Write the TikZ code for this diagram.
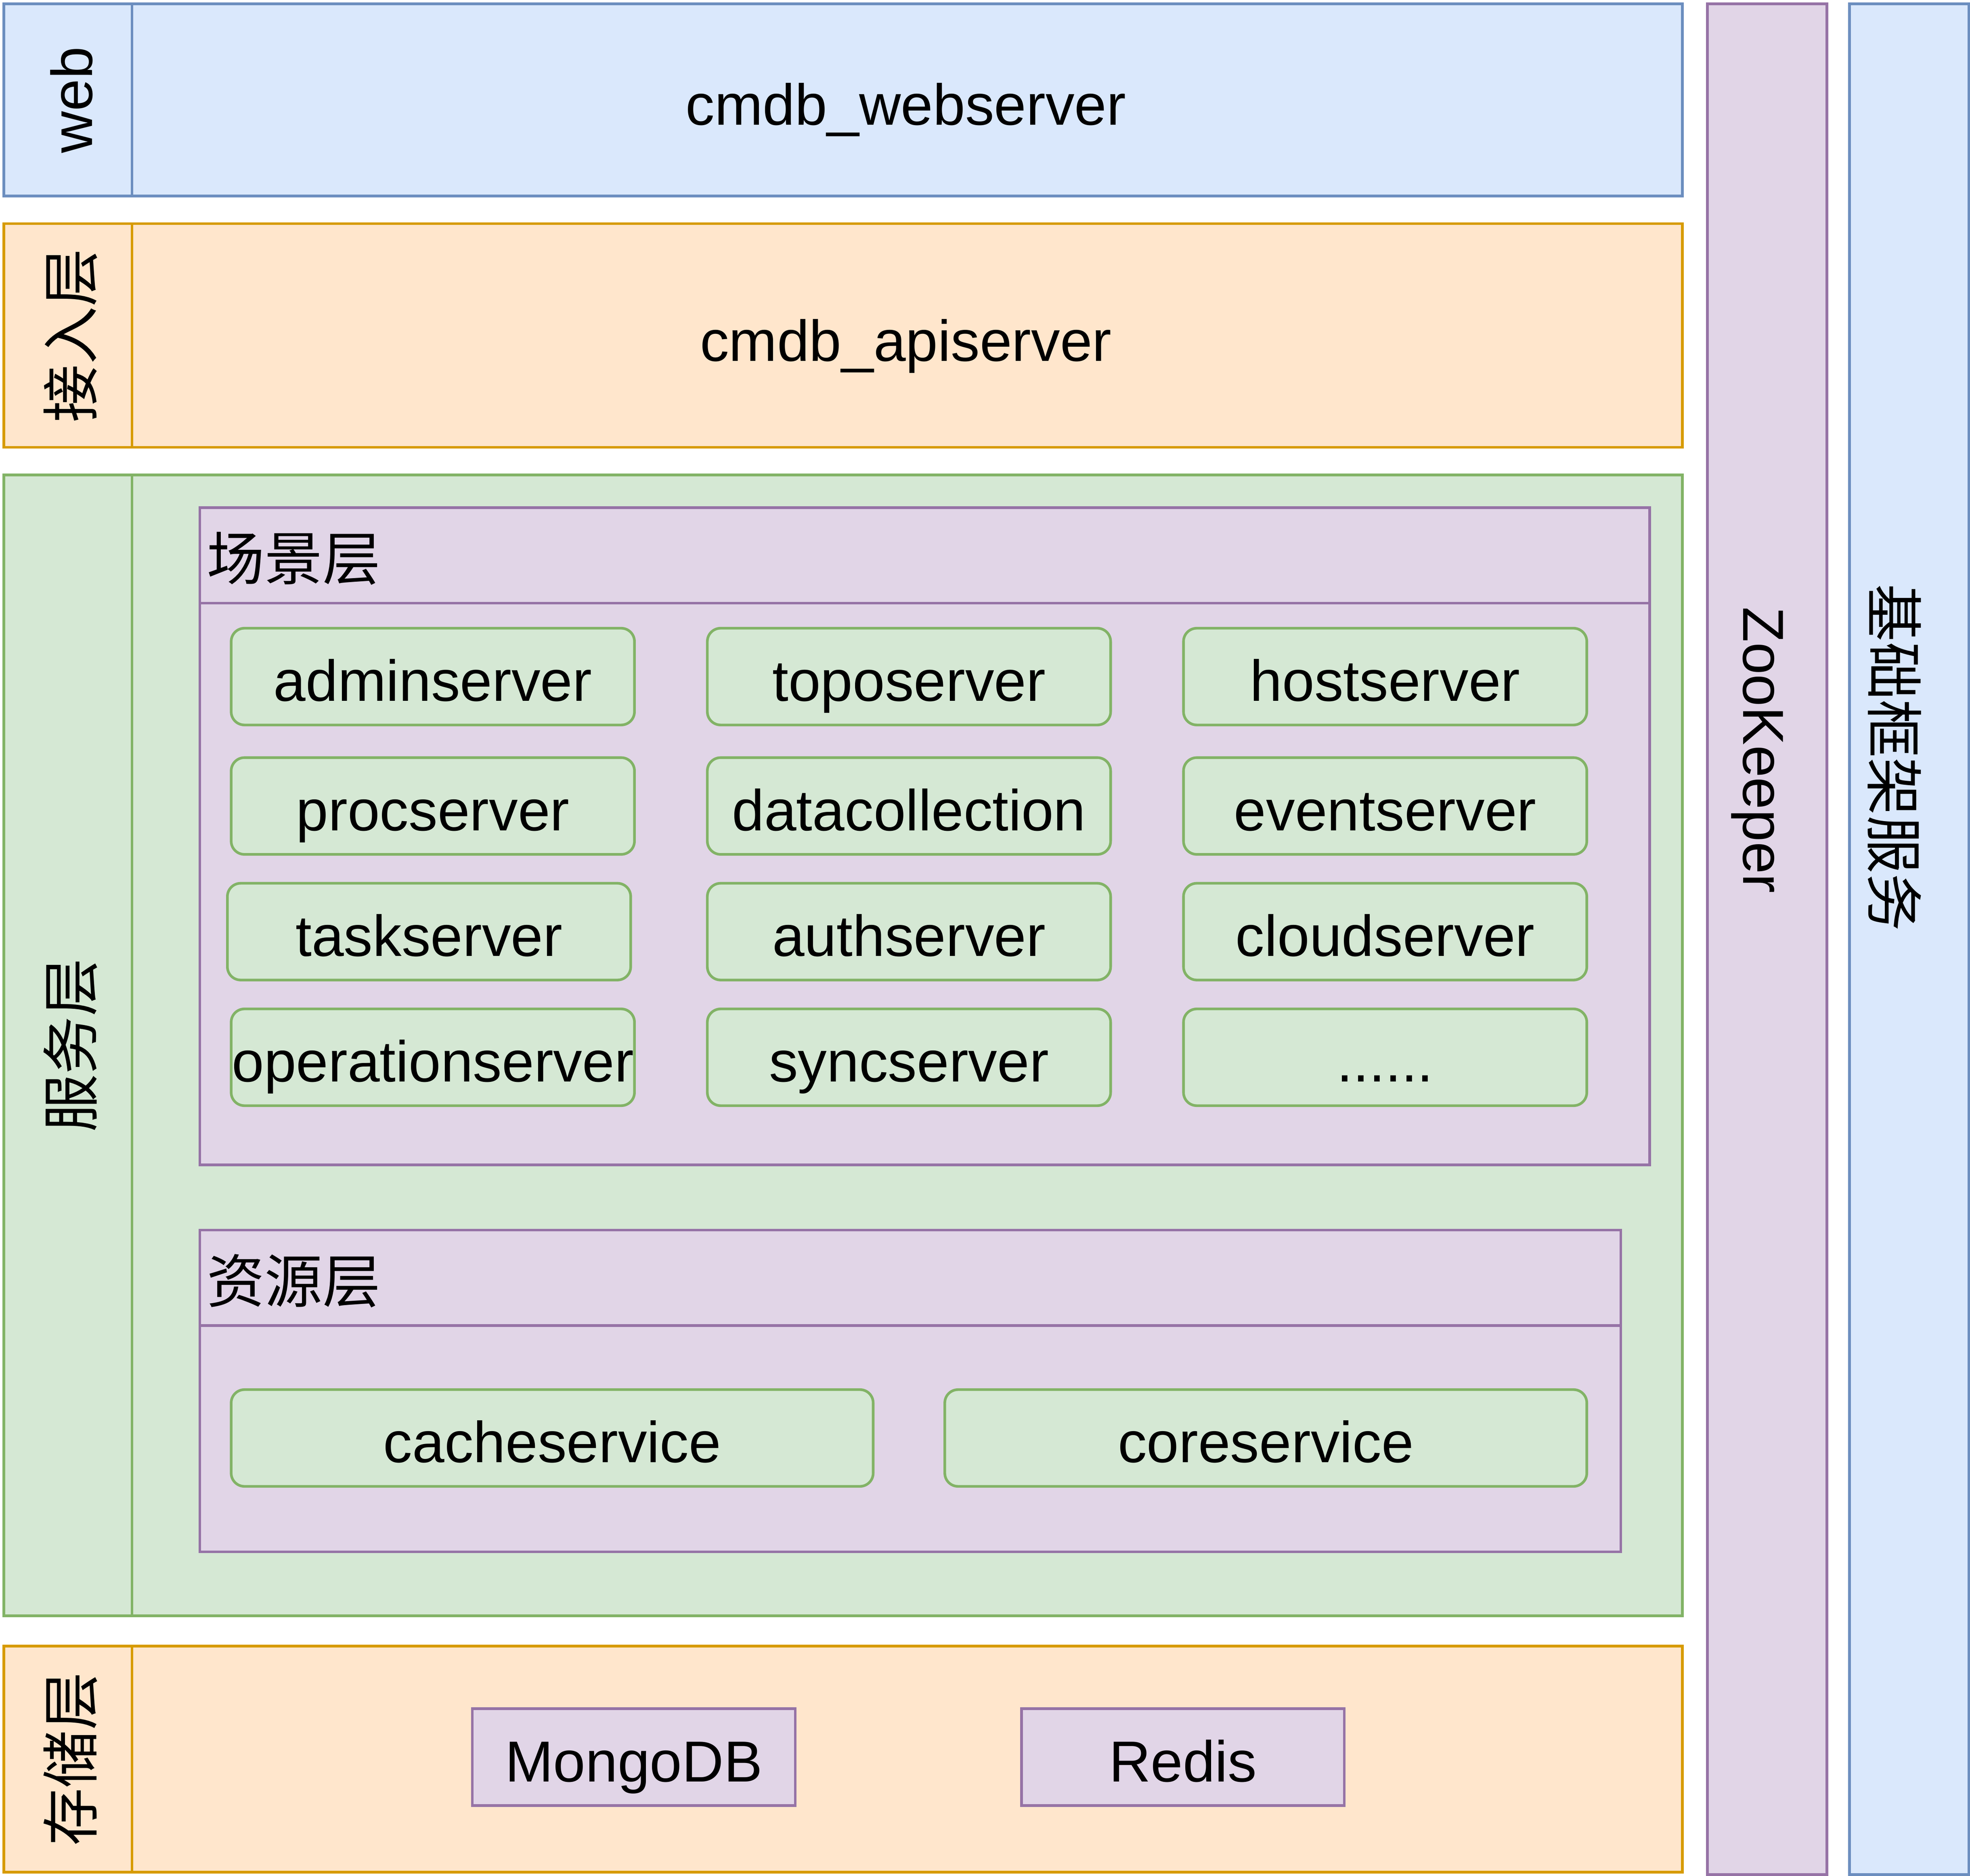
\documentclass[tikz,border=0pt]{standalone}
\usepackage{fontspec}
\setmainfont{Liberation Sans}
\newfontfamily\cjk{Noto Sans CJK SC}
\usetikzlibrary{positioning}
\definecolor{bluefill}{HTML}{DAE8FC}
\definecolor{blueline}{HTML}{6C8EBF}
\definecolor{orangefill}{HTML}{FFE6CC}
\definecolor{orangeline}{HTML}{D79B00}
\definecolor{greenfill}{HTML}{D5E8D4}
\definecolor{greenline}{HTML}{82B366}
\definecolor{purplefill}{HTML}{E1D5E7}
\definecolor{purpleline}{HTML}{9673A6}
\tikzset{
	lane/.style={draw, rectangle, inner sep=0pt, line width=0.6pt, anchor=north west},
	bluelane/.style={lane, draw=blueline, fill=bluefill},
	orangelane/.style={lane, draw=orangeline, fill=orangefill},
	greenlane/.style={lane, draw=greenline, fill=greenfill},
	purplelane/.style={lane, draw=purpleline, fill=purplefill},
	% text boxes, baseline kept in the same place
	label/.style={inner sep=0pt, text height=0.45cm, text depth=0.06cm},
	server/.style={label, outer sep=0pt, draw=greenline, fill=greenfill, line width=0.6pt, rounded corners=3pt, minimum width=3.21cm, minimum height=0.77cm},
	store/.style={label, outer sep=0pt, draw=purpleline, fill=purplefill, line width=0.6pt, minimum width=2.57cm, minimum height=0.77cm},
}

\begin{document}
\begin{tikzpicture}[x=0.1mm, y=-0.1mm, font=\fontsize{13.1}{15.7}\selectfont]
\useasboundingbox (0,0) rectangle (1568,1493);

% web layer
\node (web) [bluelane, minimum width=13.36cm, minimum height=1.53cm] at (2,2) {};
\node (webtag) [bluelane, minimum width=1.02cm, minimum height=1.53cm] at (2,2) {};
\node (webname) [label, rotate=90] at (webtag) {web};
\node (webserver) [label] at (721,80) {cmdb\_webserver};

% access layer
\node (api) [orangelane, minimum width=13.36cm, minimum height=1.78cm] at (2,177) {};
\node (apitag) [orangelane, minimum width=1.02cm, minimum height=1.78cm] at (2,177) {};
\node (apiname) [label, rotate=90] at (apitag) {\cjk 接入层};
\node (apiserver) [label] at (721,268) {cmdb\_apiserver};

% service layer
\node (svc) [greenlane, minimum width=13.36cm, minimum height=9.08cm] at (2,377) {};
\node (svctag) [greenlane, minimum width=1.02cm, minimum height=9.08cm] at (2,377) {};
\node (svcname) [label, rotate=90] at (svctag) {\cjk 服务层};

\node (scene) [purplelane, minimum width=11.54cm, minimum height=5.23cm] at (158,403) {};
\node (scenehead) [purplelane, minimum width=11.54cm, minimum height=0.76cm] at (158,403) {};
\node (scenetitle) [label, anchor=west, xshift=0.06cm] at (scenehead.west) {\cjk 场景层};

\node (admin) [server, anchor=north west] at (184,500) {adminserver};
\node (topo) [server, right=0.58cm of admin] {toposerver};
\node (host) [server, right=0.58cm of topo] {hostserver};
\node (proc) [server, below=0.26cm of admin] {procserver};
\node (datacoll) [server, right=0.58cm of proc] {datacollection};
\node (event) [server, right=0.58cm of datacoll] {eventserver};
\node (task) [server, below=0.23cm of proc, xshift=-0.03cm] {taskserver};
\node (auth) [server, below=0.23cm of datacoll] {authserver};
\node (cloud) [server, below=0.23cm of event] {cloudserver};
\node (operation) [server, below=0.23cm of task, xshift=0.03cm] {operationserver};
\node (sync) [server, below=0.23cm of auth] {syncserver};
\node (more) [server, below=0.23cm of cloud] {......};

\node (res) [purplelane, minimum width=11.31cm, minimum height=2.56cm] at (158,978) {};
\node (reshead) [purplelane, minimum width=11.31cm, minimum height=0.76cm] at (158,978) {};
\node (restitle) [label, anchor=west, xshift=0.06cm] at (reshead.west) {\cjk 资源层};

\node (cache) [server, anchor=north west, minimum width=5.11cm] at (184,1106) {cacheservice};
\node (core) [server, right=0.57cm of cache, minimum width=5.11cm] {coreservice};

% storage layer
\node (db) [orangelane, minimum width=13.36cm, minimum height=1.80cm] at (2,1309) {};
\node (dbtag) [orangelane, minimum width=1.02cm, minimum height=1.80cm] at (2,1309) {};
\node (dbname) [label, rotate=90] at (dbtag) {\cjk 存储层};
\node (mongo) [store, anchor=north west] at (376,1360) {MongoDB};
\node (redis) [store, right=1.80cm of mongo] {Redis};

% side columns
\node (zk) [purplelane, minimum width=0.95cm, minimum height=14.89cm] at (1358,2) {};
\node (zkname) [label, rotate=-90] at (1407,597) {ZooKeeper};
\node (base) [bluelane, minimum width=0.95cm, minimum height=14.89cm] at (1471,2) {};
\node (basename) [label, rotate=-90] at (1510,603) {\cjk 基础框架服务};
\end{tikzpicture}
\end{document}
